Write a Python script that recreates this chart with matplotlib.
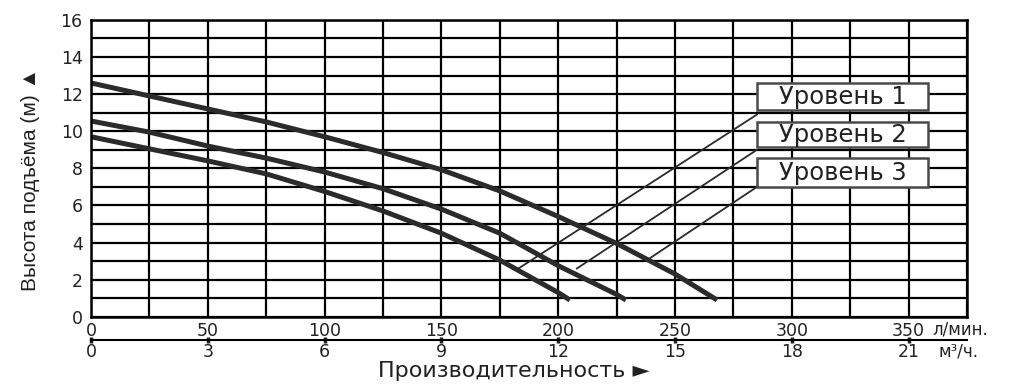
import matplotlib
matplotlib.use('Agg')
import matplotlib.pyplot as plt
from matplotlib.patches import Rectangle

# pump curves: flow (l/min) vs head (m)
flow_1 = [0, 25, 50, 75, 100, 125, 150, 175, 200, 225, 250, 268]
head_1 = [12.6, 11.9, 11.2, 10.5, 9.7, 8.85, 7.92, 6.78, 5.4, 3.95, 2.3, 0.9]
flow_2 = [0, 25, 50, 75, 100, 125, 150, 175, 200, 225, 229]
head_2 = [10.55, 9.95, 9.2, 8.55, 7.8, 6.9, 5.8, 4.5, 2.75, 1.2, 0.9]
flow_3 = [0, 25, 50, 75, 100, 125, 150, 175, 200, 205]
head_3 = [9.7, 9.05, 8.4, 7.7, 6.75, 5.7, 4.5, 3.05, 1.3, 0.9]

labels = ['Уровень 1', 'Уровень 2', 'Уровень 3']
# where each leader line touches its curve (l/min, m)
leader_points = [(183, 2.6), (208, 2.6), (238, 3.05)]

lmin_ticks = [0, 50, 100, 150, 200, 250, 300, 350]
m3h_ticks = [0, 3, 6, 9, 12, 15, 18, 21]
head_ticks = [0, 2, 4, 6, 8, 10, 12, 14, 16]

WIDE = ['DejaVu Sans']
NARROW = ['Liberation Sans', 'DejaVu Sans']
TXT = '#222222'
plt.rcParams['font.family'] = WIDE

fig = plt.figure(figsize=(10.09, 3.92), dpi=100)
ax = fig.add_axes([0.0902, 0.1921, 0.8682, 0.7571])
ax.set_xlim(0, 375)
ax.set_ylim(0, 16)

ax.set_xticks(lmin_ticks)
ax.set_xticks(range(0, 376, 25), minor=True)
ax.set_yticks(head_ticks)
ax.set_yticks(range(0, 17), minor=True)
ax.grid(which='both', color='black', linewidth=1.6)
ax.set_axisbelow(True)
for sp in ax.spines.values():
    sp.set_linewidth(1.8)
ax.tick_params(which='both', length=0, labelsize=12.5, colors=TXT)
ax.tick_params(axis='x', pad=4)
ax.tick_params(axis='y', pad=6)

for fl, hd in [(flow_1, head_1), (flow_2, head_2), (flow_3, head_3)]:
    ax.plot(fl, hd, color='#2b2b2b', linewidth=3.6, solid_capstyle='butt')

# label boxes and leader lines
box_x0, box_x1 = 285.1, 358.3
box_rows = [(11.15, 12.6), (9.15, 10.5), (7.0, 8.55)]
leader_tops = [10.9, 9.0, 7.0]
for lab, (lx, ly), (y0, y1), ty in zip(labels, leader_points, box_rows, leader_tops):
    ax.plot([lx, box_x0], [ly, ty], color='#2b2b2b', linewidth=1.3)
    ax.add_patch(Rectangle((box_x0, y0), box_x1 - box_x0, y1 - y0,
                           facecolor='white', edgecolor='#4a4a4a', linewidth=1.8, zorder=5))
    ax.text((box_x0 + box_x1) / 2, (y0 + y1) / 2 - 0.05, lab, ha='center', va='center',
            fontsize=17.5, color=TXT, zorder=6)

fig.text(932 / 1009, 1 - 330 / 392, 'л/мин.', ha='left', va='center',
         fontsize=12, color=TXT)

# second flow scale in m3/h
sec = ax.secondary_xaxis(-0.078, functions=(lambda x: x * 0.06, lambda x: x / 0.06))
sec.set_xticks(m3h_ticks)
sec.spines['bottom'].set_linewidth(1.5)
sec.tick_params(direction='inout', length=4, width=2.5, labelsize=12.5, pad=0,
                colors=TXT)
fig.text(938 / 1009, 1 - 351 / 392, 'м³/ч.', ha='left', va='center',
         fontsize=12, color=TXT)

fig.text(514 / 1009, 1 - 371 / 392, 'Производительность ►', ha='center', va='center',
         fontsize=16, color=TXT)
fig.text(31 / 1009, 1 - 179 / 392, 'Высота подъёма (м) ▲', ha='center', va='center',
         rotation=90, fontsize=15, color=TXT, family=NARROW)

fig.savefig('out.png', dpi=100)
